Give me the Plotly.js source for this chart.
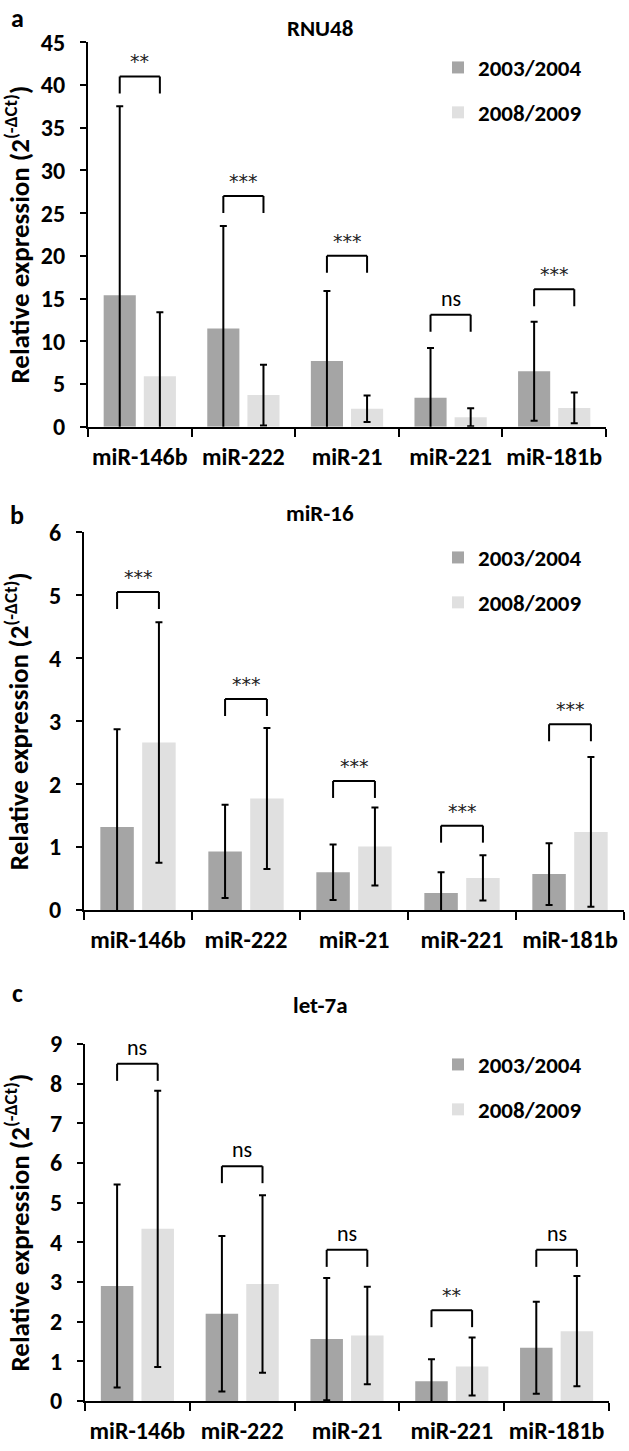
<!DOCTYPE html>
<html><head><meta charset="utf-8">
<script src="https://cdn.plot.ly/plotly-3.0.1.min.js"></script>
<style>html,body{margin:0;padding:0;background:#fff}</style>
</head><body><div id="chart" style="width:629px;height:1451px"></div>
<script>
// ---------- DATA ----------
const categories = ['miR-146b', 'miR-222', 'miR-21', 'miR-221', 'miR-181b'];
const seriesNames = ['2003/2004', '2008/2009'];

// Panel a: normalised to RNU48
const rnu48_2003 = [15.4, 11.5, 7.7, 3.4, 6.5];
const rnu48_2003_sd = [22.1, 12.0, 8.2, 5.8, 5.8];
const rnu48_2008 = [5.9, 3.7, 2.1, 1.1, 2.2];
const rnu48_2008_sd = [7.5, 3.55, 1.55, 1.05, 1.8];
const rnu48_sig = ['**', '***', '***', 'ns', '***'];
const rnu48_bracket = [41.0, 27.0, 20.0, 13.1, 16.1];

// Panel b: normalised to miR-16
const mir16_2003 = [1.32, 0.93, 0.60, 0.27, 0.57];
const mir16_2003_sd = [1.55, 0.74, 0.44, 0.33, 0.49];
const mir16_2008 = [2.66, 1.77, 1.01, 0.51, 1.24];
const mir16_2008_sd = [1.91, 1.12, 0.62, 0.36, 1.19];
const mir16_sig = ['***', '***', '***', '***', '***'];
const mir16_bracket = [5.05, 3.35, 2.05, 1.34, 2.95];

// Panel c: normalised to let-7a
const let7a_2003 = [2.90, 2.20, 1.56, 0.50, 1.34];
const let7a_2003_sd = [2.56, 1.96, 1.54, 0.55, 1.16];
const let7a_2008 = [4.34, 2.95, 1.65, 0.87, 1.76];
const let7a_2008_sd = [3.48, 2.24, 1.23, 0.73, 1.39];
const let7a_sig = ['ns', 'ns', 'ns', '**', 'ns'];
const let7a_bracket = [8.5, 5.92, 3.81, 2.29, 3.81];

// ---------- LAYOUT / STYLE ----------
const W = 629, H = 1451;
const FONT = 'Carlito, Lato, "Open Sans", sans-serif';
const STAR_FONT = '"DejaVu Sans", sans-serif';
const colors = ['#a5a5a5', '#e0e0e0'];
const BARGAP = 0.225;
const fx = p => p / W;
const fy = p => 1 - p / H;

const panels = [
  { name: 'RNU48', letter: 'a', s1: rnu48_2003, e1: rnu48_2003_sd, s2: rnu48_2008, e2: rnu48_2008_sd,
    sig: rnu48_sig, br: rnu48_bracket, ymax: 45, dtick: 5,
    box: { l: 88, r: 606, t: 42.3, b: 426.7 }, titleY: 28, letterY: 18, legTop: 46 },
  { name: 'miR-16', letter: 'b', s1: mir16_2003, e1: mir16_2003_sd, s2: mir16_2008, e2: mir16_2008_sd,
    sig: mir16_sig, br: mir16_bracket, ymax: 6, dtick: 1,
    box: { l: 84, r: 624, t: 532.3, b: 910 }, titleY: 513, letterY: 515, legTop: 536 },
  { name: 'let-7a', letter: 'c', s1: let7a_2003, e1: let7a_2003_sd, s2: let7a_2008, e2: let7a_2008_sd,
    sig: let7a_sig, br: let7a_bracket, ymax: 9, dtick: 1,
    box: { l: 85, r: 609, t: 1044, b: 1401 }, titleY: 1005, letterY: 993, legTop: 1043 }
];

const data = [];
const shapes = [];
const annotations = [];
const layout = {
  width: W, height: H, margin: { l: 0, r: 0, t: 0, b: 0 },
  paper_bgcolor: '#fff', plot_bgcolor: 'rgba(0,0,0,0)',
  bargap: BARGAP, bargroupgap: 0.2, barmode: 'group',
  font: { family: FONT, color: '#000' },
  showlegend: true
};

const off = (1 - BARGAP) / 4;

panels.forEach((p, k) => {
  const n = k === 0 ? '' : String(k + 1);
  const xa = 'x' + n, ya = 'y' + n;
  const legName = 'legend' + n;
  [[p.s1, p.e1], [p.s2, p.e2]].forEach((s, j) => {
    data.push({
      type: 'bar', x: categories, y: s[0], name: seriesNames[j],
      xaxis: xa, yaxis: ya, legend: legName, legendgroup: legName + '_' + j,
      marker: { color: colors[j], line: { width: 0 } },
      error_y: { type: 'data', array: s[1], visible: true, color: '#000', thickness: 2, width: 3.5 },
      hoverinfo: 'skip'
    });
  });
  layout['xaxis' + n] = {
    domain: [fx(p.box.l), fx(p.box.r)], anchor: ya, type: 'category',
    showline: true, linecolor: '#000', linewidth: 2,
    ticks: 'outside', tickson: 'boundaries', ticklen: 8, tickwidth: 2, tickcolor: '#000',
    tickangle: 0,
    tickfont: { family: FONT, size: 24, weight: 'bold' }, ticklabelstandoff: 7,
    showgrid: false, zeroline: false, fixedrange: true
  };
  layout['yaxis' + n] = {
    domain: [fy(p.box.b), fy(p.box.t)], anchor: xa, range: [0, p.ymax], dtick: p.dtick,
    showline: true, linecolor: '#000', linewidth: 2,
    ticks: 'outside', ticklen: 6, tickwidth: 2, tickcolor: '#000',
    tickfont: { family: FONT, size: 24, weight: 'bold' }, ticklabelstandoff: 10,
    showgrid: false, zeroline: false, fixedrange: true
  };
  layout[legName] = {
    x: fx(438), xanchor: 'left', y: fy(p.legTop), yanchor: 'top',
    font: { family: FONT, size: 23, weight: 'bold' }, tracegroupgap: 12,
    bgcolor: 'rgba(0,0,0,0)', borderwidth: 0, traceorder: 'grouped'
  };
  // significance brackets
  const pxPerUnit = (p.box.b - p.box.t) / p.ymax;
  const leg = 17 / pxPerUnit;
  p.br.forEach((yb, i) => {
    const x0 = i - off, x1 = i + off;
    const ln = { type: 'line', xref: xa, yref: ya, line: { color: '#000', width: 2 } };
    shapes.push(Object.assign({}, ln, { x0: x0, x1: x1, y0: yb, y1: yb }));
    shapes.push(Object.assign({}, ln, { x0: x0, x1: x0, y0: yb, y1: yb - leg }));
    shapes.push(Object.assign({}, ln, { x0: x1, x1: x1, y0: yb, y1: yb - leg }));
    const isStar = p.sig[i].indexOf('*') >= 0;
    annotations.push({
      xref: xa, yref: ya, x: i, y: yb, yanchor: 'bottom', yshift: isStar ? 2 : 1, showarrow: false,
      text: p.sig[i],
      font: isStar ? { family: STAR_FONT, size: 19, color: '#222' } : { family: FONT, size: 22, color: '#000' }
    });
  });
  // panel title
  annotations.push({ xref: 'paper', yref: 'paper', x: fx(320), y: fy(p.titleY), xanchor: 'center', yanchor: 'middle',
    showarrow: false, text: p.name, font: { family: FONT, size: 23, weight: 'bold' } });
  // panel letter
  annotations.push({ xref: 'paper', yref: 'paper', x: fx(17), y: fy(p.letterY), xanchor: 'center', yanchor: 'middle',
    showarrow: false, text: p.letter, font: { family: FONT, size: 26, weight: 'bold' } });
  // y axis title
  annotations.push({ xref: 'paper', yref: 'paper', x: fx(17), y: fy((p.box.t + p.box.b) / 2), xanchor: 'center', yanchor: 'middle',
    textangle: -90, showarrow: false, text: 'Relative expression (2<sup>(-ΔCt)</sup>)',
    font: { family: FONT, size: 27, weight: 'bold' } });
});

layout.shapes = shapes;
layout.annotations = annotations;

Plotly.newPlot('chart', data, layout, { staticPlot: true, displayModeBar: false });
</script>
</body></html>
